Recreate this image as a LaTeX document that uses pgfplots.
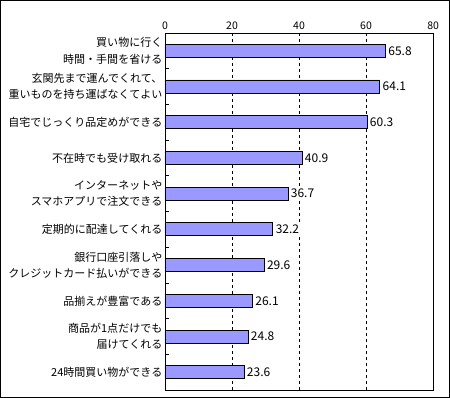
\documentclass[border=0pt]{standalone}
\usepackage{fontspec}
\setmainfont{Noto Sans CJK JP}
\usepackage{pgfplots}
\pgfplotsset{compat=1.18}
\definecolor{barc}{RGB}{153,153,255}
\begin{document}
\begin{tikzpicture}
\begin{axis}[
  name=ax,
  scale only axis,
  width=268pt, height=357pt,
  xbar, bar width=13pt,
  xmin=0, xmax=80,
  ymin=0.5, ymax=10.5,
  y dir=reverse,
  xtick={0,20,40,60,80},
  xtick pos=top, xticklabel pos=top,
  ytick={1,...,10},
  ytick pos=left,
  minor ytick={1.5,2.5,...,9.5},
  major tick length=0pt,
  minor tick length=4pt,
  tick align=inside,
  yticklabels={
    {買い物に行く\\時間・手間を省ける},
    {玄関先まで運んでくれて、\\重いものを持ち運ばなくてよい},
    {自宅でじっくり品定めができる},
    {不在時でも受け取れる},
    {インターネットや\\スマホアプリで注文できる},
    {定期的に配達してくれる},
    {銀行口座引落しや\\クレジットカード払いができる},
    {品揃えが豊富である},
    {商品が1点だけでも\\届けてくれる\hspace{4pt}},
    {24時間買い物ができる}},
  yticklabel style={align=right, font=\fontsize{11}{16.5}\selectfont, inner sep=2.5pt},
  xticklabel style={font=\fontsize{10.5}{12}\selectfont, inner sep=3pt},
  /pgf/number format/assume math mode=true,
  xmajorgrids,
  major x grid style={black, dashed, line width=0.8pt},
  axis line style={black, line width=0.8pt},
  minor tick style={black, line width=0.8pt},
  nodes near coords,
  point meta=x,
  nodes near coords style={font=\fontsize{12}{14}\selectfont, fill=white, /pgf/number format/fixed, /pgf/number format/fixed zerofill, /pgf/number format/precision=1, /pgf/number format/assume math mode=true, inner sep=1.5pt, xshift=1pt},
]
\addplot[fill=barc, draw=black, line width=0.8pt] coordinates {
  (65.8,1) (64.1,2) (60.3,3) (40.9,4) (36.7,5)
  (32.2,6) (29.6,7) (26.1,8) (24.8,9) (23.6,10)
};
\end{axis}
\draw[black, line width=0.8pt] ([shift={(-164.5pt,-7.5pt)}]ax.south west) rectangle ([shift={(16.5pt,32.5pt)}]ax.north east);
\end{tikzpicture}
\end{document}
